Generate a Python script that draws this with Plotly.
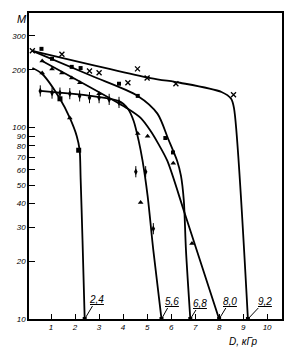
import plotly.graph_objects as go

# ---- curve lines: dose D (кГр) vs M ----
d_24 = [0.22, 0.63, 1.37, 1.78, 2.07, 2.19, 2.23, 2.31, 2.4]
m_24 = [204, 190, 141, 112, 90, 76, 54.6, 25.6, 10]
d_56 = [0.55, 3.83, 4.2, 4.44, 4.65, 4.81, 5.02, 5.26, 5.6]
m_56 = [155, 137, 125, 108, 85, 67, 44, 22.8, 10]
d_68 = [0.22, 2.68, 4.61, 5.43, 5.88, 6.25, 6.41, 6.53, 6.62, 6.8]
m_68 = [251, 186, 146, 118, 87, 67, 56, 41.5, 22.8, 10]
d_80 = [0.63, 4.2, 4.73, 5.14, 5.47, 5.84, 6.57, 8.0]
m_80 = [222, 125, 112, 96, 82, 67, 35.5, 10]
d_92 = [0.22, 5.14, 6.37, 8.1, 8.5, 8.62, 9.2]
m_92 = [251, 181, 171, 153, 141, 126, 10]

# ---- measured points ----
x_d = [0.22, 1.45, 2.6, 3.0, 4.2, 4.6, 5.0, 6.2, 8.6]
x_m = [251, 241, 197, 193, 171, 202, 181, 169, 148]
sq_d = [0.6, 1.04, 1.86, 2.23, 3.83, 4.61, 5.76, 6.08]
sq_m = [257, 228, 207, 204, 169, 146, 88, 74]
tri_d = [0.63, 1.04, 1.45, 1.86, 2.2, 3.0, 4.61, 5.02, 6.09, 6.87, 4.73]
tri_m = [222, 202, 192, 181, 171, 150, 93, 90, 65, 24.8, 40.5]
dia_d = [0.55, 1.04, 1.37, 1.78, 2.19, 2.6, 3.0, 3.42, 3.83, 4.53, 4.94, 5.26]
dia_m = [155, 151, 151, 150, 146, 143, 143, 140, 135, 58.7, 58.7, 29.6]
e_d = [0.63, 1.37, 1.78, 2.15]
e_m = [192, 141, 112, 76]
e_sym = ["triangle-up", "square", "triangle-up", "square"]
end_d = [2.4, 5.6, 6.8, 8.0, 9.2]
end_m = [10, 10, 10, 10, 10]
end_labels = ["2,4", "5,6", "6,8", "8,0", "9,2"]

y_ticks = [10, 20, 30, 40, 50, 60, 70, 80, 90, 100, 200, 300]
x_ticks = [1, 2, 3, 4, 5, 6, 7, 8, 9, 10]

FONT = "Liberation Sans"
fig = go.Figure()
for d, m in [(d_24, m_24), (d_56, m_56), (d_68, m_68), (d_80, m_80), (d_92, m_92)]:
    fig.add_trace(go.Scatter(x=d, y=m, mode="lines", line=dict(color="black", width=1.8, shape="spline", smoothing=0.8),
                             cliponaxis=False, showlegend=False, hoverinfo="skip"))

mk = dict(color="black")
fig.add_trace(go.Scatter(x=x_d, y=x_m, mode="markers", marker=dict(symbol="x-thin", size=5, line=dict(color="black", width=1.3)), cliponaxis=False, showlegend=False))
fig.add_trace(go.Scatter(x=sq_d, y=sq_m, mode="markers", marker=dict(symbol="square", size=4, **mk), cliponaxis=False, showlegend=False))
fig.add_trace(go.Scatter(x=tri_d, y=tri_m, mode="markers", marker=dict(symbol="triangle-up", size=5, **mk), cliponaxis=False, showlegend=False))
fig.add_trace(go.Scatter(x=dia_d, y=dia_m, mode="markers", marker=dict(symbol="diamond-tall", size=5, **mk), cliponaxis=False, showlegend=False))
fig.add_trace(go.Scatter(x=dia_d, y=dia_m, mode="markers", marker=dict(symbol="line-ns", size=8, line=dict(color="black", width=1)), cliponaxis=False, showlegend=False))
fig.add_trace(go.Scatter(x=e_d, y=e_m, mode="markers", marker=dict(symbol=e_sym, size=5, **mk), cliponaxis=False, showlegend=False))
fig.add_trace(go.Scatter(x=end_d, y=end_m, mode="markers", marker=dict(symbol="square", size=4, **mk), cliponaxis=False, showlegend=False))

offs = [(12, -20), (10, -18), (10, -16), (11, -18), (17, -18)]
for d, lab, (ax, ay) in zip(end_d, end_labels, offs):
    fig.add_annotation(x=d, y=1, xref="x", yref="y", text="<i><u>" + lab + "</u></i>", showarrow=True,
                       arrowhead=0, arrowwidth=1, arrowcolor="black", ax=ax, ay=ay,
                       font=dict(family=FONT, size=10, color="black"))

fig.add_annotation(xref="paper", yref="paper", x=0.848, y=-0.072, xanchor="center", yanchor="middle",
                   text="<i>D, кГр</i>", showarrow=False, font=dict(family=FONT, size=10, color="black"))
fig.add_annotation(xref="paper", yref="paper", x=-0.027, y=0.98, xanchor="center", yanchor="middle",
                   text="<i>M</i>", showarrow=False, font=dict(family=FONT, size=11, color="black"))

fig.update_xaxes(range=[0.08, 10.62], tickvals=x_ticks, ticktext=["<i>%d</i>" % v for v in x_ticks],
                 ticks="inside", ticklen=5, tickcolor="black", showline=True, linecolor="black", linewidth=1.5,
                 mirror=True, showgrid=False, zeroline=False, tickfont=dict(family=FONT, size=8, color="black"))
fig.update_yaxes(type="log", range=[1.0, 2.597], tickvals=y_ticks, ticktext=["<i>%d</i>" % v for v in y_ticks],
                 ticks="inside", ticklen=6, tickcolor="black", showline=True, linecolor="black", linewidth=1.5,
                 mirror=True, showgrid=False, zeroline=False, tickfont=dict(family=FONT, size=8, color="black"))
fig.update_layout(width=295, height=350, margin=dict(l=27, r=11, t=12, b=31), plot_bgcolor="white",
                  paper_bgcolor="white", showlegend=False)
fig.write_html("out.html")
